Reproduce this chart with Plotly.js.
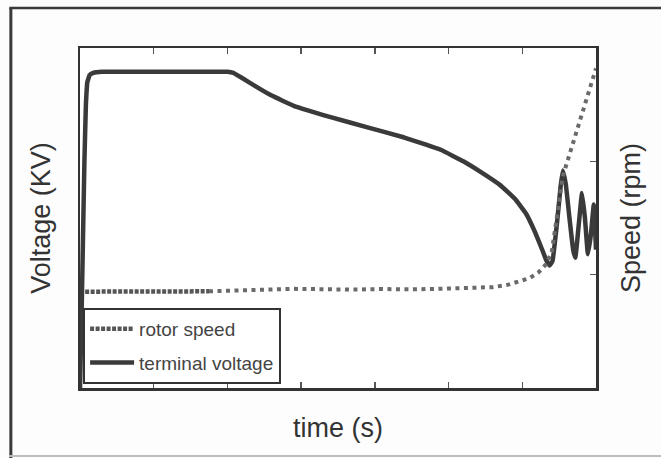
<!DOCTYPE html>
<html>
<head>
<meta charset="utf-8">
<script src="https://cdn.plot.ly/plotly-3.0.1.min.js"></script>
<style>
  html, body { margin: 0; padding: 0; background: #fdfdfd; }
  #chart { width: 661px; height: 458px; }
</style>
</head>
<body>
<div id="chart"></div>
<script>
// ---- data (arbitrary units; axes carry no tick labels) ----
const voltTime = [0, 0.02, 0.04, 0.06, 0.08, 0.1, 0.13, 0.18, 0.3, 0.8, 1.4, 2.0, 2.08, 2.2, 2.4, 2.6, 2.9, 3.4, 3.9, 4.4, 4.9, 5.2, 5.45, 5.7, 5.9, 6.05, 6.17, 6.27, 6.33, 6.37, 6.41, 6.47, 6.52, 6.55, 6.59, 6.64, 6.69, 6.72, 6.76, 6.81, 6.85, 6.89, 6.93, 6.97, 7.0];
const terminalVoltage = [0, 0.6, 1.3, 2.0, 2.5, 2.7, 2.76, 2.78, 2.79, 2.79, 2.79, 2.79, 2.78, 2.735, 2.655, 2.58, 2.49, 2.39, 2.30, 2.21, 2.10, 2.00, 1.90, 1.79, 1.67, 1.54, 1.38, 1.22, 1.12, 1.08, 1.12, 1.45, 1.78, 1.92, 1.80, 1.50, 1.22, 1.15, 1.40, 1.72, 1.50, 1.18, 1.35, 1.62, 1.22];

const speedTimeStart = [0.07, 0.4, 0.8, 1.2, 1.6, 1.75];
const rotorSpeedStart = [0.85, 0.85, 0.85, 0.85, 0.851, 0.853];
const speedTimeRest = [1.75, 2.1, 2.5, 2.9, 3.3, 3.7, 4.1, 4.5, 4.9, 5.3, 5.6, 5.8, 5.95, 6.1, 6.22, 6.32, 6.4, 6.48, 6.55, 6.65, 6.78, 6.89, 7.0];
const rotorSpeedRest = [0.853, 0.86, 0.87, 0.875, 0.872, 0.868, 0.873, 0.87, 0.876, 0.88, 0.89, 0.91, 0.94, 0.97, 1.02, 1.09, 1.2, 1.55, 1.87, 2.08, 2.35, 2.57, 2.82];

const seriesNames = ['rotor speed', 'terminal voltage'];
const xTitle = 'time (s)';
const yTitle = 'Voltage (KV)';
const y2Title = 'Speed (rpm)';

const ink = '#333333';
const font = 'Liberation Sans, Arial, Helvetica, sans-serif';

const traces = [
  {
    x: speedTimeStart, y: rotorSpeedStart, yaxis: 'y2', name: seriesNames[0], legendgroup: 'a',
    mode: 'lines', line: { color: '#555555', width: 4.5, dash: '4px,1.5px' }
  },
  {
    x: speedTimeRest, y: rotorSpeedRest, yaxis: 'y2', name: seriesNames[0], showlegend: false, legendgroup: 'a',
    mode: 'lines', line: { color: '#6a6a6a', width: 4, dash: '4px,4.5px' }
  },
  {
    x: voltTime, y: terminalVoltage, name: seriesNames[1], legendgroup: 'b',
    mode: 'lines', line: { color: '#3a3a3a', width: 4.5, shape: 'spline', smoothing: 0.25 }
  }
];

const axisCommon = {
  showline: true, linecolor: ink, linewidth: 2.5,
  ticks: 'inside', ticklen: 6, tickwidth: 1.5, tickcolor: '#555',
  showticklabels: false, showgrid: false, zeroline: false, dtick: 1
};

const layout = {
  width: 661, height: 458,
  margin: { l: 80, r: 65, t: 48, b: 70 },
  paper_bgcolor: '#fdfdfd', plot_bgcolor: '#ffffff',
  font: { family: font, color: ink },
  showlegend: true,
  xaxis: Object.assign({}, axisCommon, {
    range: [0, 7], mirror: 'ticks', tick0: 0,
    title: { text: xTitle, font: { size: 27, color: ink }, standoff: 29 }
  }),
  yaxis: Object.assign({}, axisCommon, {
    range: [0, 3], mirror: true, ticks: '', tick0: 0,
    title: { text: yTitle, font: { size: 27, color: ink }, standoff: 19 }
  }),
  yaxis2: Object.assign({}, axisCommon, {
    range: [0, 3], overlaying: 'y', side: 'right', tick0: 0,
    title: { text: y2Title, font: { size: 27, color: ink }, standoff: 24 }
  }),
  legend: {
    x: 0.006, y: 0.012, xanchor: 'left', yanchor: 'bottom',
    bgcolor: '#ffffff', bordercolor: ink, borderwidth: 2,
    font: { size: 19, color: '#444', family: font },
    traceorder: 'grouped', tracegroupgap: 6, itemwidth: 44
  },
  shapes: [
    { type: 'line', xref: 'paper', yref: 'paper', x0: -0.134, x1: -0.134, y0: -0.21, y1: 1.118, line: { color: '#3a3a3a', width: 3 } },
    { type: 'line', xref: 'paper', yref: 'paper', x0: -0.137, x1: 1.2, y0: 1.118, y1: 1.118, line: { color: '#3a3a3a', width: 2.5 } },
    { type: 'line', xref: 'paper', yref: 'paper', x0: -0.137, x1: 1.2, y0: -0.2, y1: -0.2, line: { color: '#bdbdbd', width: 2 } }
  ]
};

Plotly.newPlot('chart', traces, layout, { displayModeBar: false, staticPlot: true });
</script>
</body>
</html>
